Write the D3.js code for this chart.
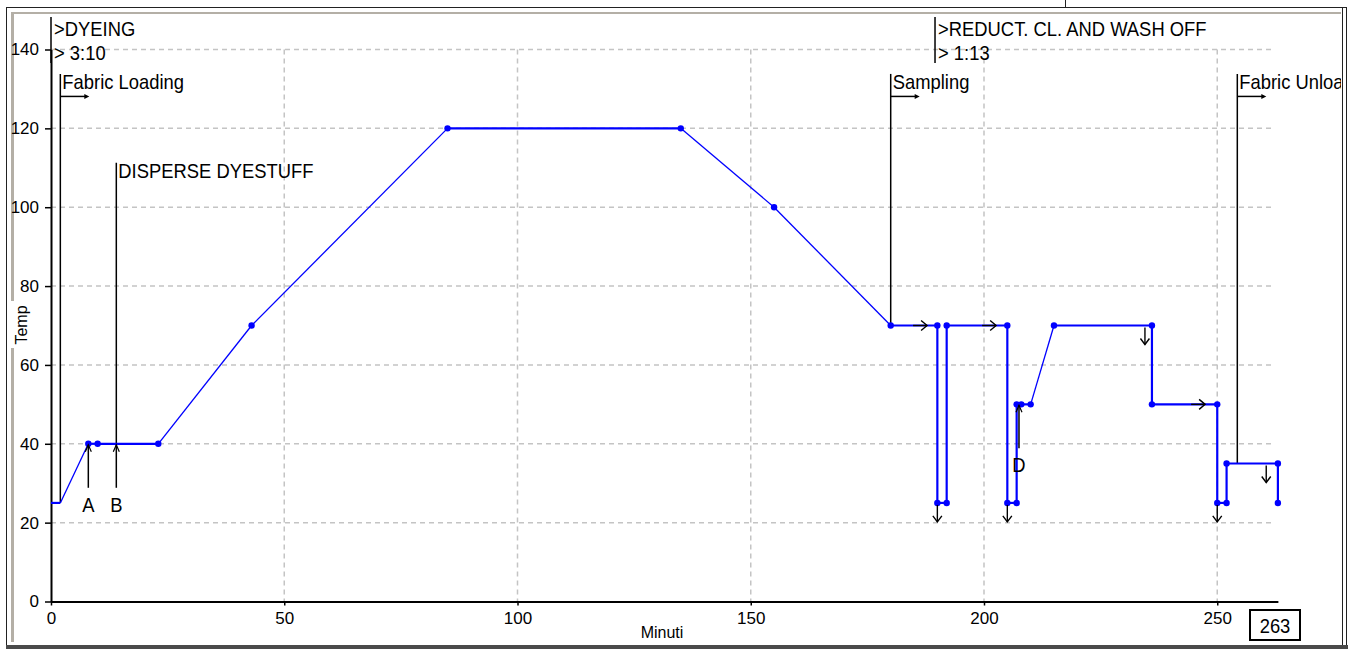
<!DOCTYPE html>
<html>
<head>
<meta charset="utf-8">
<script src="https://cdn.jsdelivr.net/npm/d3@7"></script>
<style>
body { margin: 0; background: #fff; }
svg { display: block; }
</style>
</head>
<body>
<svg id="chart" width="1354" height="652"></svg>
<script>
// temperature profile (minutes, °C)
const minutes = [0, 2, 8, 10, 23, 43, 85, 135, 155, 180, 190, 190, 192, 192, 205, 205, 207, 207, 208, 210, 215, 236, 236, 250, 250, 252, 252, 263, 263];
const temps   = [25, 25, 40, 40, 40, 70, 120, 120, 100, 70, 70, 25, 25, 70, 70, 25, 25, 50, 50, 50, 70, 70, 50, 50, 25, 25, 35, 35, 25];
const firstDot = 2;

// phases shown at the top
const phaseNames = [">DYEING", ">REDUCT. CL. AND WASH OFF"];
const phaseTimes = [0, 189.5];
const phaseDurations = ["> 3:10", "> 1:13"];

// events with a flag line
const eventNames  = ["Fabric Loading", "DISPERSE DYESTUFF", "Sampling", "Fabric Unloading"];
const eventTimes  = [2, 14, 180, 254.3];
const eventTemps  = [25, 40, 70, 35];
const eventLevels = [130, 107.5, 130, 130];
const eventArrow  = [true, false, true, true];

// additions A, B, D
const addNames = ["A", "B", "D"];
const addTimes = [8, 14, 207.5];
const addTemps = [40, 40, 50];

// drain / hold arrows
const downTimes = [190, 205, 234.5, 250, 260.5];
const downTemps = [25, 25, 70, 25, 35];
const holdTimes = [187.8, 202.6, 247.4];
const holdTemps = [70, 70, 50];

const xTicks = [0, 50, 100, 150, 200, 250];
const yTicks = [0, 20, 40, 60, 80, 100, 120, 140];
const totalTime = 263;

const svg = d3.select("#chart");
const labelFont = "'Liberation Sans', Arial, sans-serif";
const tickFont = "'Liberation Sans Narrow', 'Arial Narrow', 'Liberation Sans', sans-serif";

const x = d3.scaleLinear().domain([0, totalTime]).range([51, 51 + totalTime * 4.665]);
const y = d3.scaleLinear().domain([0, 140]).range([601.5, 49.5]);

// tall, slightly condensed label like the old Windows font
function label(parent, str, px, py, anchor) {
    return parent.append("text").text(str)
        .attr("transform", "translate(" + px + "," + py + ") scale(0.92,1)")
        .attr("text-anchor", anchor || "start")
        .attr("font-family", labelFont)
        .attr("font-size", "20px")
        .attr("fill", "#000");
}

// window frame
svg.append("rect").attr("x", 11).attr("y", 12).attr("width", 3).attr("height", 630).attr("fill", "#b4afa6");
svg.append("rect").attr("x", 11).attr("y", 12).attr("width", 1330).attr("height", 2).attr("fill", "#b4afa6");
svg.append("line").attr("x1", 6.5).attr("x2", 6.5).attr("y1", 7).attr("y2", 648).attr("stroke", "#222");
svg.append("line").attr("x1", 6).attr("x2", 1347).attr("y1", 7.5).attr("y2", 7.5).attr("stroke", "#222");
svg.append("line").attr("x1", 1065.5).attr("x2", 1065.5).attr("y1", 0).attr("y2", 8).attr("stroke", "#222");
svg.append("line").attr("x1", 1342.5).attr("x2", 1342.5).attr("y1", 7).attr("y2", 648).attr("stroke", "#222");
svg.append("line").attr("x1", 1346.5).attr("x2", 1346.5).attr("y1", 7).attr("y2", 648).attr("stroke", "#222");
svg.append("rect").attr("x", 6).attr("y", 645).attr("width", 1342).attr("height", 4).attr("fill", "#4a4a4a");

svg.append("clipPath").attr("id", "clip")
    .append("rect").attr("x", 0).attr("y", 0).attr("width", 1341).attr("height", 652);
const g = svg.append("g").attr("clip-path", "url(#clip)");

// grid
g.selectAll(".hgrid")
    .data(yTicks.filter(d => d > 0))
    .enter()
    .append("line")
    .attr("x1", x(0)).attr("x2", x(262))
    .attr("y1", d => y(d)).attr("y2", d => y(d))
    .attr("stroke", "#c4c4c4").attr("stroke-width", 1.5).attr("stroke-dasharray", "5,4");
g.selectAll(".vgrid")
    .data(xTicks.filter(d => d > 0))
    .enter()
    .append("line")
    .attr("x1", d => x(d)).attr("x2", d => x(d))
    .attr("y1", y(140)).attr("y2", y(0))
    .attr("stroke", "#c4c4c4").attr("stroke-width", 1.5).attr("stroke-dasharray", "5,4");

// axes
const xAxis = g.append("g")
    .attr("transform", "translate(0," + y(0) + ")")
    .call(d3.axisBottom(x).tickValues(xTicks).tickSize(4).tickSizeOuter(0).tickPadding(6));
const yAxis = g.append("g")
    .attr("transform", "translate(" + x(0) + ",0)")
    .call(d3.axisLeft(y).tickValues(yTicks).tickSize(6).tickSizeOuter(0).tickPadding(6));
[xAxis, yAxis].forEach(a => {
    a.select(".domain").attr("stroke", "#000").attr("stroke-width", 2);
    a.selectAll(".tick line").attr("stroke", "#000").attr("stroke-width", 1.5);
    a.selectAll(".tick text").attr("fill", "#000").attr("font-family", tickFont).attr("font-size", "17px");
});

// axis titles
svg.append("rect").attr("x", 11).attr("y", 301).attr("width", 5).attr("height", 47).attr("fill", "#fff");
svg.append("text").text("Temp")
    .attr("transform", "translate(27,325) rotate(-90)")
    .attr("text-anchor", "middle")
    .attr("font-family", labelFont).attr("font-size", "16px");
svg.append("text").text("Minuti")
    .attr("x", 662).attr("y", 638)
    .attr("text-anchor", "middle")
    .attr("font-family", labelFont).attr("font-size", "16px");

// phase flags
phaseNames.forEach((name, i) => {
    const px = x(phaseTimes[i]);
    g.append("line").attr("x1", px).attr("x2", px).attr("y1", 17).attr("y2", 63)
        .attr("stroke", "#000").attr("stroke-width", 1.5);
    label(g, name, px + 3, 36);
    label(g, phaseDurations[i], px + 3, 60);
});

// event flags
eventNames.forEach((name, i) => {
    const px = x(eventTimes[i]);
    const base = y(eventLevels[i]);
    g.append("line").attr("x1", px).attr("x2", px).attr("y1", base - 15).attr("y2", y(eventTemps[i]))
        .attr("stroke", "#000").attr("stroke-width", 1.5);
    label(g, name, px + 2, base);
    if (eventArrow[i]) {
        g.append("line").attr("x1", px).attr("x2", px + 26).attr("y1", base + 7.5).attr("y2", base + 7.5)
            .attr("stroke", "#000").attr("stroke-width", 1.5);
        g.append("path")
            .attr("d", "M" + (px + 29) + "," + (base + 7.5) + "l-5,-2.5l0,5z")
            .attr("fill", "#000");
    }
});

// profile line: straight steps thick, ramps thin
const segs = d3.range(minutes.length - 1).map(i => ({
    x1: minutes[i], y1: temps[i], x2: minutes[i + 1], y2: temps[i + 1]
}));
g.selectAll(".seg")
    .data(segs)
    .enter()
    .append("line")
    .attr("x1", d => x(d.x1)).attr("y1", d => y(d.y1))
    .attr("x2", d => x(d.x2)).attr("y2", d => y(d.y2))
    .attr("stroke", "#0000ff")
    .attr("stroke-width", d => (d.x1 === d.x2 || d.y1 === d.y2) ? 2.2 : 1.3);

g.selectAll(".dot")
    .data(minutes.slice(firstDot).map((m, i) => [m, temps[i + firstDot]]))
    .enter()
    .append("circle")
    .attr("cx", d => x(d[0])).attr("cy", d => y(d[1]))
    .attr("r", 3.2)
    .attr("fill", "#0000ff");

// addition arrows A, B, D
addNames.forEach((name, i) => {
    const px = x(addTimes[i]);
    const tip = y(addTemps[i]) + 1;
    g.append("line").attr("x1", px).attr("x2", px).attr("y1", tip).attr("y2", tip + 43)
        .attr("stroke", "#000").attr("stroke-width", 1.5);
    g.append("polyline")
        .attr("points", [[px - 3, tip + 7], [px, tip], [px + 3, tip + 7]].join(" "))
        .attr("fill", "none").attr("stroke", "#000").attr("stroke-width", 1.2);
    label(g, name, px, tip + 67, "middle");
});

// drain arrows
downTimes.forEach((t, i) => {
    const px = x(t);
    const top = y(downTemps[i]) + 2;
    g.append("line").attr("x1", px).attr("x2", px).attr("y1", top).attr("y2", top + 17)
        .attr("stroke", "#000").attr("stroke-width", 1.4);
    g.append("polyline")
        .attr("points", [[px - 4.5, top + 11], [px, top + 17], [px + 4.5, top + 11]].join(" "))
        .attr("fill", "none").attr("stroke", "#000").attr("stroke-width", 1.4);
});

// hold arrows
holdTimes.forEach((t, i) => {
    const px = x(t);
    const py = y(holdTemps[i]);
    g.append("line").attr("x1", px - 14).attr("x2", px).attr("y1", py).attr("y2", py)
        .attr("stroke", "#000").attr("stroke-width", 1.4);
    g.append("polyline")
        .attr("points", [[px - 6, py - 5], [px, py], [px - 6, py + 5]].join(" "))
        .attr("fill", "none").attr("stroke", "#000").attr("stroke-width", 1.4);
});

// total time box
svg.append("rect").attr("x", 1250).attr("y", 610).attr("width", 50).attr("height", 30)
    .attr("fill", "#fff").attr("stroke", "#000").attr("stroke-width", 2);
label(svg, totalTime, 1275, 633, "middle");
</script>
</body>
</html>
